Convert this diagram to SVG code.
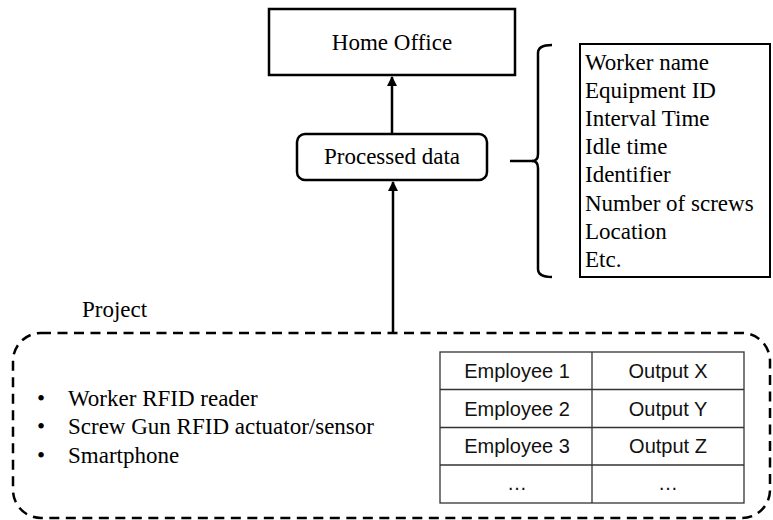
<svg xmlns="http://www.w3.org/2000/svg" width="773" height="520" viewBox="0 0 773 520">
<style>
.serif{font-family:"Liberation Serif","Times New Roman",serif;font-size:23px;fill:#000}
.sans{font-family:"Liberation Sans",Arial,sans-serif;font-size:20px;fill:#111}
.box{fill:#fff;stroke:#000;stroke-width:2.5}
.line{fill:none;stroke:#000;stroke-width:2.5}
.grid{fill:none;stroke:#333;stroke-width:1.3}
</style>
<defs>
<marker id="arr" viewBox="0 0 10 10" refX="9" refY="5" markerWidth="4" markerHeight="4" orient="auto" markerUnits="strokeWidth">
<path d="M0,0 L10,5 L0,10 z" fill="#000"/>
</marker>
</defs>
<rect width="773" height="520" fill="#fff"/>
<g id="connectors">
<line class="line" x1="393" y1="333" x2="393" y2="182" marker-end="url(#arr)"/>
<line class="line" x1="392" y1="134" x2="392" y2="77" marker-end="url(#arr)"/>
<line class="line" x1="510" y1="161" x2="533" y2="161"/>
<path class="line" d="M552,45 Q538,45 538,53 L538,154 Q538,161 532,161 Q538,161 538,168 L538,269 Q538,277 552,277"/>
</g>
<g id="home-office">
<rect class="box" x="269" y="9" width="246" height="66"/>
<text class="serif" x="392" y="50" text-anchor="middle">Home Office</text>
</g>
<g id="processed-data">
<rect class="box" x="297" y="134" width="190" height="46" rx="8"/>
<text class="serif" x="392" y="164" text-anchor="middle">Processed data</text>
</g>
<g id="data-list">
<rect x="580" y="44" width="190" height="233" fill="#fff" stroke="#000" stroke-width="2"/>
<text class="serif" x="585" y="70">Worker name</text>
<text class="serif" x="585" y="98">Equipment ID</text>
<text class="serif" x="585" y="126">Interval Time</text>
<text class="serif" x="585" y="154">Idle time</text>
<text class="serif" x="585" y="182">Identifier</text>
<text class="serif" x="585" y="211">Number of screws</text>
<text class="serif" x="585" y="239">Location</text>
<text class="serif" x="585" y="267">Etc.</text>
</g>
<g id="project">
<text class="serif" x="82" y="317">Project</text>
<rect x="13" y="333" width="757" height="185" rx="28" fill="none" stroke="#000" stroke-width="2.5" stroke-dasharray="10,6.5"/>
<text class="serif" x="37" y="406">•</text>
<text class="serif" x="68" y="406">Worker RFID reader</text>
<text class="serif" x="37" y="434">•</text>
<text class="serif" x="68" y="434">Screw Gun RFID actuator/sensor</text>
<text class="serif" x="37" y="463">•</text>
<text class="serif" x="68" y="463">Smartphone</text>
</g>
<g id="table">
<rect class="grid" x="440" y="352" width="304" height="151"/>
<line class="grid" x1="592" y1="352" x2="592" y2="503"/>
<line class="grid" x1="440" y1="389.5" x2="744" y2="389.5"/>
<line class="grid" x1="440" y1="427.5" x2="744" y2="427.5"/>
<line class="grid" x1="440" y1="465" x2="744" y2="465"/>
<text class="sans" x="517" y="378" text-anchor="middle">Employee 1</text>
<text class="sans" x="668" y="378" text-anchor="middle">Output X</text>
<text class="sans" x="517" y="416" text-anchor="middle">Employee 2</text>
<text class="sans" x="668" y="416" text-anchor="middle">Output Y</text>
<text class="sans" x="517" y="453" text-anchor="middle">Employee 3</text>
<text class="sans" x="668" y="453" text-anchor="middle">Output Z</text>
<text class="sans" x="517" y="490" text-anchor="middle">…</text>
<text class="sans" x="668" y="490" text-anchor="middle">…</text>
</g>
</svg>
